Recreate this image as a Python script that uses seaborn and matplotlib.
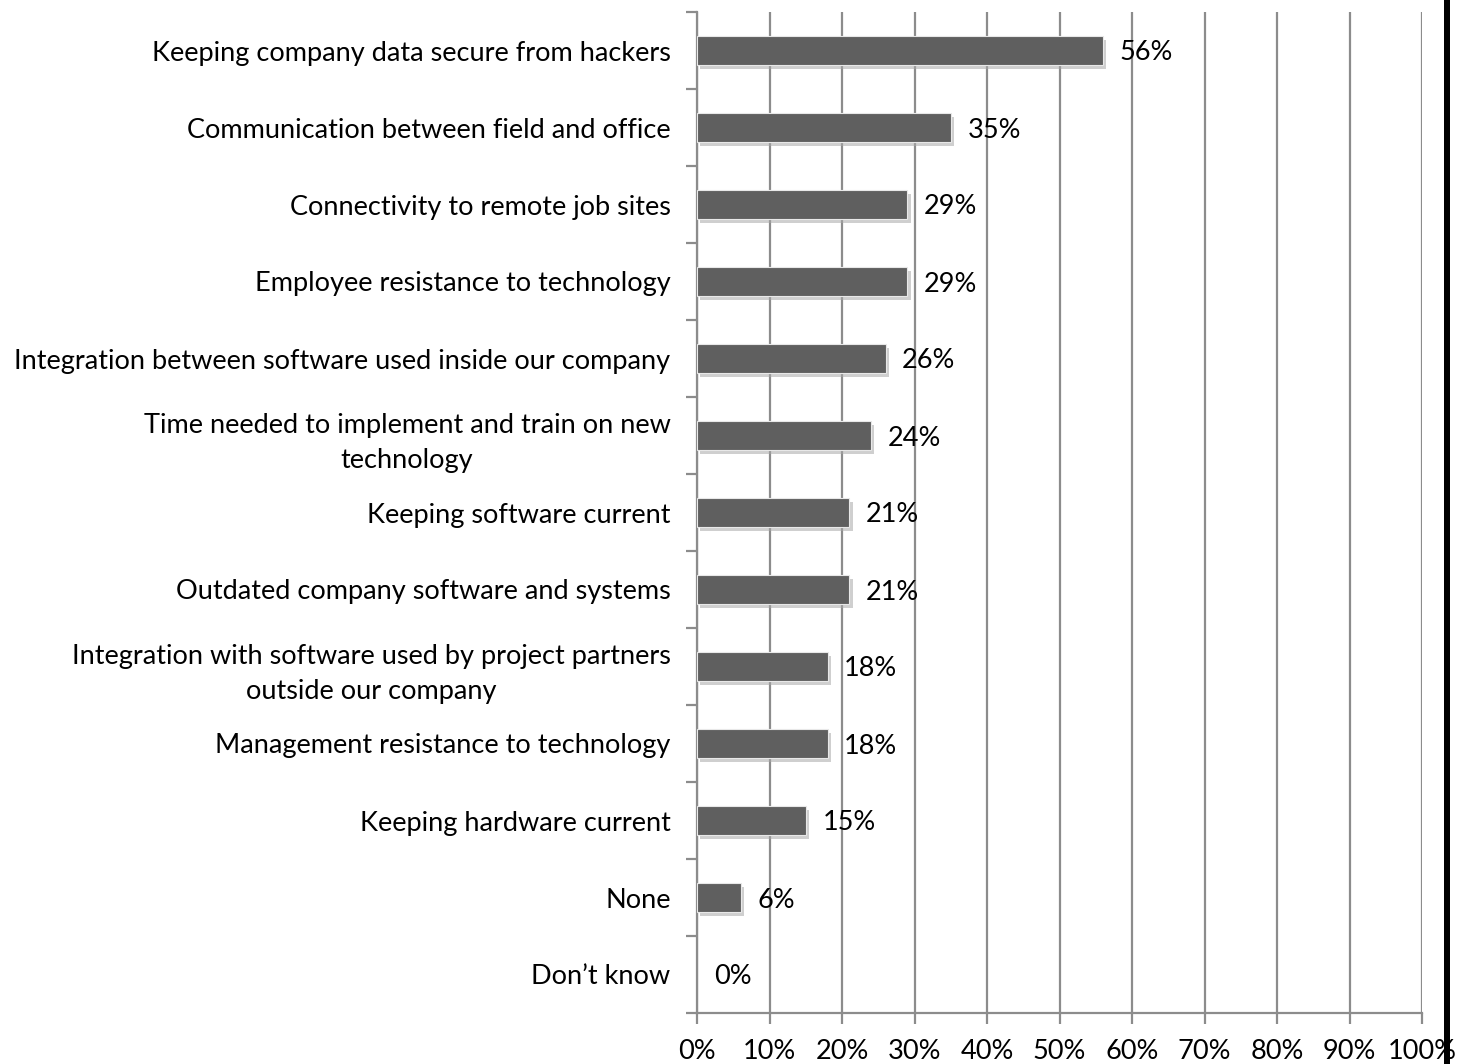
import matplotlib
matplotlib.use("Agg")
import matplotlib.pyplot as plt
import matplotlib.patheffects as pe
from matplotlib.patches import Rectangle
from matplotlib.ticker import FixedLocator, MultipleLocator, PercentFormatter
import seaborn as sns
import pandas as pd

categories = [
    "Keeping company data secure from hackers",
    "Communication between field and office",
    "Connectivity to remote job sites",
    "Employee resistance to technology",
    "Integration between software used inside our company",
    "Time needed to implement and train on new\ntechnology",
    "Keeping software current",
    "Outdated company software and systems",
    "Integration with software used by project partners\noutside our company",
    "Management resistance to technology",
    "Keeping hardware current",
    "None",
    "Don\u2019t know",
]
values = [56, 35, 29, 29, 26, 24, 21, 21, 18, 18, 15, 6, 0]

df = pd.DataFrame({"category": categories, "share": values})

sns.set_theme(style="white")
plt.rcParams["font.family"] = ["Lato", "DejaVu Sans"]

FS = 19.5
fig = plt.figure(figsize=(14.63, 10.64), dpi=100)
ax = fig.add_axes([697 / 1463, 1 - 1013 / 1064, (1422 - 697) / 1463, (1013 - 12) / 1064])

sns.barplot(data=df, x="share", y="category", orient="h", color="#5f5f5f",
            width=0.38, saturation=1, ax=ax, zorder=3)

shadow = [pe.SimplePatchShadow(offset=(2.5, -3), shadow_rgbFace="#a8a8a8", alpha=0.55),
          pe.Normal()]
for bar in ax.patches:
    if bar.get_width() > 0:
        bar.set_edgecolor("#e8e8e8")
        bar.set_linewidth(0.8)
        bar.set_path_effects(shadow)
    else:
        bar.set_linewidth(0)

n = len(categories)
ax.set_xlim(0, 100)
ax.set_ylim(n - 0.5, -0.5)

# vertical gridlines
ax.xaxis.set_major_locator(MultipleLocator(10))
ax.xaxis.set_major_formatter(PercentFormatter(decimals=0))
ax.grid(axis="x", color="#8c8c8c", linewidth=1.6, zorder=0)
ax.set_axisbelow(True)

for side in ["top", "right"]:
    ax.spines[side].set_visible(False)
for side in ["left", "bottom"]:
    ax.spines[side].set_color("#8c8c8c")
    ax.spines[side].set_linewidth(1.6)

ax.set_xlabel("")
ax.set_ylabel("")

ax.tick_params(axis="x", which="major", direction="out", length=8, width=1.6,
               color="#8c8c8c", labelsize=FS, pad=11, labelcolor="black", bottom=True)
ax.tick_params(axis="y", which="major", length=0, labelsize=FS, pad=19, labelcolor="black")
ax.yaxis.set_minor_locator(FixedLocator([i - 0.5 for i in range(n + 1)]))
ax.tick_params(axis="y", which="minor", direction="out", length=8, width=1.6,
               color="#8c8c8c", left=True)
for lbl in ax.get_yticklabels():
    lbl.set_multialignment("center")
    lbl.set_linespacing(1.5)

# value labels at the end of each bar
for i, v in enumerate(values):
    ax.annotate(f"{v}%", xy=(v, i), xytext=(12, 0), textcoords="offset points",
                ha="left", va="center_baseline", fontsize=FS, color="black", zorder=5)

# dark band along the right edge of the figure
fig.patches.append(Rectangle((1444 / 1463, 0), 6 / 1463, 1, transform=fig.transFigure,
                             facecolor="black", edgecolor="none", zorder=10))

fig.savefig("out.png", dpi=100)
